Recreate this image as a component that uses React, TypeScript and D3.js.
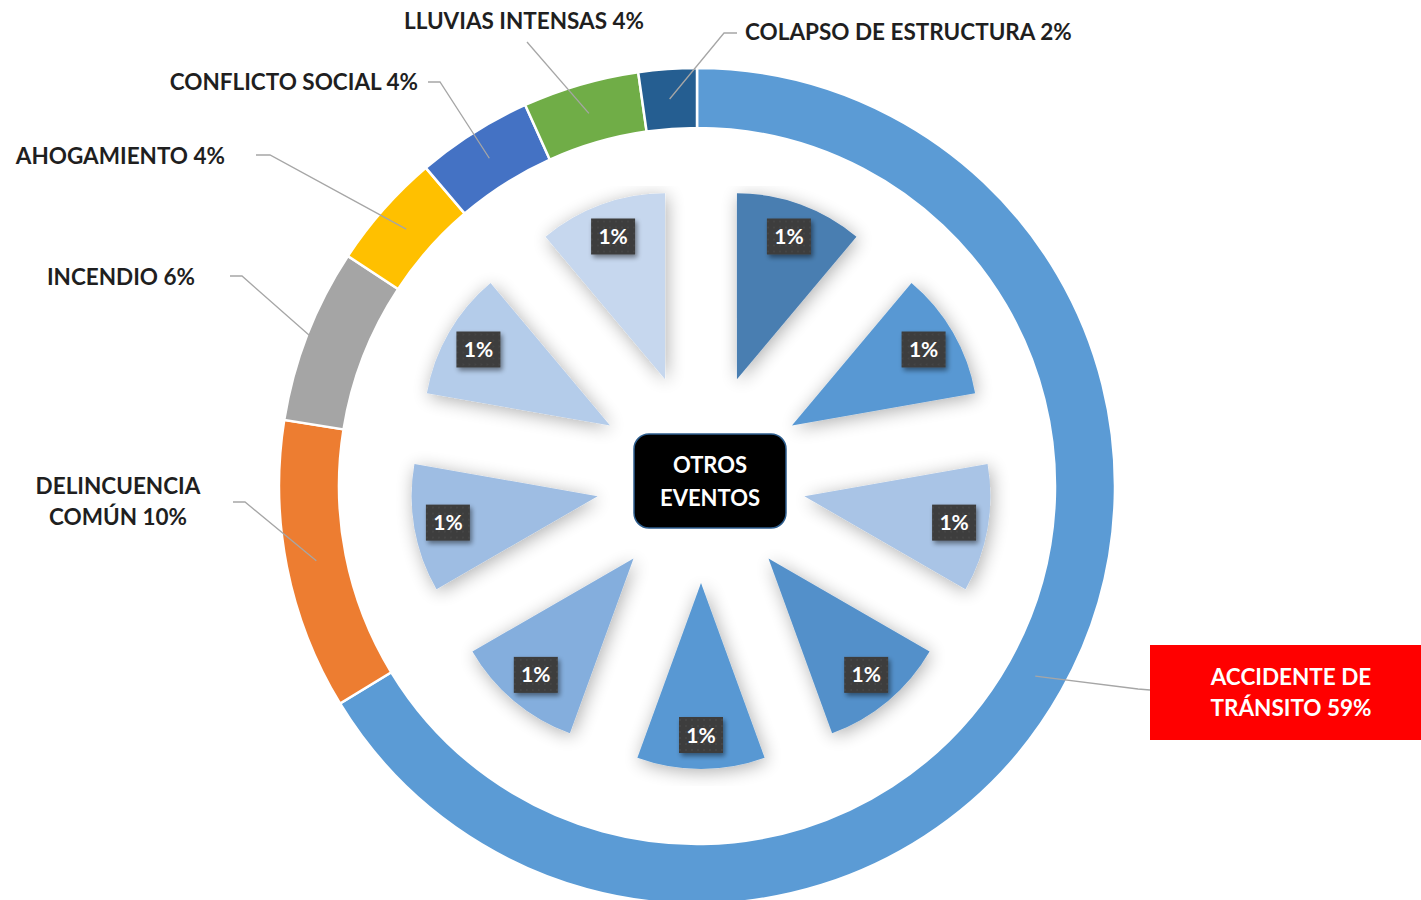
import React, { useEffect } from "react";
import * as d3 from "d3";

// ---------- data ----------
const ringLabels = [
  "ACCIDENTE DE TRÁNSITO",
  "DELINCUENCIA COMÚN",
  "INCENDIO",
  "AHOGAMIENTO",
  "CONFLICTO SOCIAL",
  "LLUVIAS INTENSAS",
  "COLAPSO DE ESTRUCTURA",
];
const ringValues = [59, 10, 6, 4, 4, 4, 2];
const ringColors = ["#5B9BD5", "#ED7D31", "#A5A5A5", "#FFC000", "#4472C4", "#70AD47", "#255E91"];

const otrosValues = [1, 1, 1, 1, 1, 1, 1, 1, 1];
const otrosColors = ["#4A7EB1", "#5898D3", "#A9C4E6", "#5390CA", "#5898D3", "#84AEDD", "#9EBDE3", "#B4CCEA", "#C6D7EE"];
const otrosTitle = ["OTROS", "EVENTOS"];

// ---------- layout ----------
const W = 1421;
const H = 900;
const ringC = { x: 697, y: 486 };
const ringR = { inner: 358, outer: 418 };
const pieC = { x: 701, y: 478 };
const pieR = 186;
const explode = 105;
const FONT = "Lato, 'Open Sans', sans-serif";

type LabelLayout = {
  lines: { x: number; y: number }[];
  anchor: "start" | "middle" | "end";
  path: [number, number][];
  endR: number;
};
const labelLayouts: LabelLayout[] = [
  { lines: [{ x: 1291, y: 677 }, { x: 1291, y: 708 }], anchor: "middle", path: [[1150, 690], [1138, 689]], endR: 388 },
  { lines: [{ x: 118, y: 486 }, { x: 118, y: 517 }], anchor: "middle", path: [[233, 502], [245, 502]], endR: 388 },
  { lines: [{ x: 195, y: 277 }], anchor: "end", path: [[230, 276], [242, 276]], endR: 416 },
  { lines: [{ x: 225, y: 156 }], anchor: "end", path: [[256, 155], [270, 155]], endR: 388 },
  { lines: [{ x: 418, y: 82 }], anchor: "end", path: [[428, 82], [440, 82]], endR: 388 },
  { lines: [{ x: 524, y: 21 }], anchor: "middle", path: [[527, 42]], endR: 388 },
  { lines: [{ x: 745, y: 32 }], anchor: "start", path: [[737, 33], [724, 33]], endR: 388 },
];

function labelLines(i: number): string[] {
  const pct = `${ringValues[i]}%`;
  if (i === 0) return ["ACCIDENTE DE", `TRÁNSITO ${pct}`];
  if (i === 1) return ["DELINCUENCIA", `COMÚN ${pct}`];
  return [`${ringLabels[i]} ${pct}`];
}

export default function App() {
  useEffect(() => {
    document.body.style.margin = "0";
  }, []);

  const ringPie = d3.pie<number>().sort(null).value((d) => d)(ringValues);
  const ringArc = d3.arc<d3.PieArcDatum<number>>().innerRadius(ringR.inner).outerRadius(ringR.outer);

  const otrosPie = d3.pie<number>().sort(null).value((d) => d)(otrosValues);
  const wedgeArc = d3.arc<d3.PieArcDatum<number>>().innerRadius(0).outerRadius(pieR);

  const polar = (a: number, r: number) => [Math.sin(a) * r, -Math.cos(a) * r];
  const line = d3.line();

  return (
    <svg width={W} height={H} style={{ position: "absolute", left: 0, top: 0, background: "#fff" }}>
      <defs>
        <filter id="wedgeShadow" x="-40%" y="-40%" width="180%" height="180%">
          <feGaussianBlur in="SourceAlpha" stdDeviation="9" />
          <feOffset dx="2" dy="3" result="b" />
          <feComponentTransfer>
            <feFuncA type="linear" slope="0.32" />
          </feComponentTransfer>
          <feMerge>
            <feMergeNode />
            <feMergeNode in="SourceGraphic" />
          </feMerge>
        </filter>
        <filter id="boxShadow" x="-30%" y="-30%" width="170%" height="170%">
          <feGaussianBlur in="SourceAlpha" stdDeviation="2.5" />
          <feOffset dx="2" dy="3" result="b" />
          <feComponentTransfer>
            <feFuncA type="linear" slope="0.45" />
          </feComponentTransfer>
          <feMerge>
            <feMergeNode />
            <feMergeNode in="SourceGraphic" />
          </feMerge>
        </filter>
        <pattern id="dots" width="6" height="6" patternUnits="userSpaceOnUse">
          <rect width="6" height="6" fill="#3c3c3c" />
          <circle cx="3" cy="3" r="0.7" fill="#555" />
        </pattern>
        <clipPath id="pieClip">
          <rect x={pieC.x - 362} y={186} width={724} height={600} />
        </clipPath>
      </defs>

      {/* outer ring */}
      <g transform={`translate(${ringC.x},${ringC.y})`}>
        {ringPie.map((d, i) => (
          <path key={i} d={ringArc(d) || ""} fill={ringColors[i]} stroke="#fff" strokeWidth={2.5} />
        ))}
      </g>

      {/* leader lines */}
      {ringPie.map((d, i) => {
        const L = labelLayouts[i];
        const mid = (d.startAngle + d.endAngle) / 2;
        const [ex, ey] = polar(mid, L.endR);
        const pts: [number, number][] = [...L.path, [ringC.x + ex, ringC.y + ey]];
        return <path key={i} d={line(pts) || ""} fill="none" stroke="#A6A6A6" strokeWidth={1.3} />;
      })}

      {/* accident red box */}
      <rect x={1150} y={645} width={W - 1150} height={95} fill="#FF0000" />

      {/* ring labels */}
      {ringPie.map((d, i) => {
        const L = labelLayouts[i];
        const lines = labelLines(i);
        return lines.map((t, j) => (
          <text
            key={`${i}-${j}`}
            x={L.lines[j].x}
            y={L.lines[j].y}
            dy="0.35em"
            textAnchor={L.anchor}
            fontFamily={FONT}
            fontWeight={700}
            fontSize={22.5}
            fill={i === 0 ? "#fff" : "#1f1f1f"}
          >
            {t}
          </text>
        ));
      })}

      {/* inner exploded pie */}
      <g clipPath="url(#pieClip)">
        <g transform={`translate(${pieC.x},${pieC.y})`}>
          {otrosPie.map((d, i) => {
            const mid = (d.startAngle + d.endAngle) / 2;
            const [ox, oy] = polar(mid, explode);
            return (
              <path
                key={i}
                d={wedgeArc(d) || ""}
                transform={`translate(${ox},${oy})`}
                fill={otrosColors[i]}
                filter="url(#wedgeShadow)"
              />
            );
          })}
        </g>
      </g>

      {/* inner labels */}
      <g transform={`translate(${pieC.x},${pieC.y})`}>
        {otrosPie.map((d, i) => {
          const mid = (d.startAngle + d.endAngle) / 2;
          const [lx, ly] = polar(mid, explode + 152);
          return (
            <g key={i} transform={`translate(${lx},${ly})`}>
              <rect x={-22} y={-18} width={44} height={36} fill="url(#dots)" filter="url(#boxShadow)" />
              <text
                x={0}
                y={0}
                dy="0.36em"
                textAnchor="middle"
                fontFamily={FONT}
                fontWeight={700}
                fontSize={21}
                fill="#fff"
              >
                {`${otrosValues[i]}%`}
              </text>
            </g>
          );
        })}
      </g>

      {/* center box */}
      <g transform={`translate(${pieC.x + 9},${pieC.y + 3})`}>
        <rect x={-76} y={-47} width={152} height={94} rx={15} fill="#000" stroke="#2E5E8E" strokeWidth={1.5} />
        {otrosTitle.map((t, j) => (
          <text
            key={j}
            x={0}
            y={-16 + j * 33}
            dy="0.35em"
            textAnchor="middle"
            fontFamily={FONT}
            fontWeight={700}
            fontSize={22}
            fill="#fff"
          >
            {t}
          </text>
        ))}
      </g>
    </svg>
  );
}
